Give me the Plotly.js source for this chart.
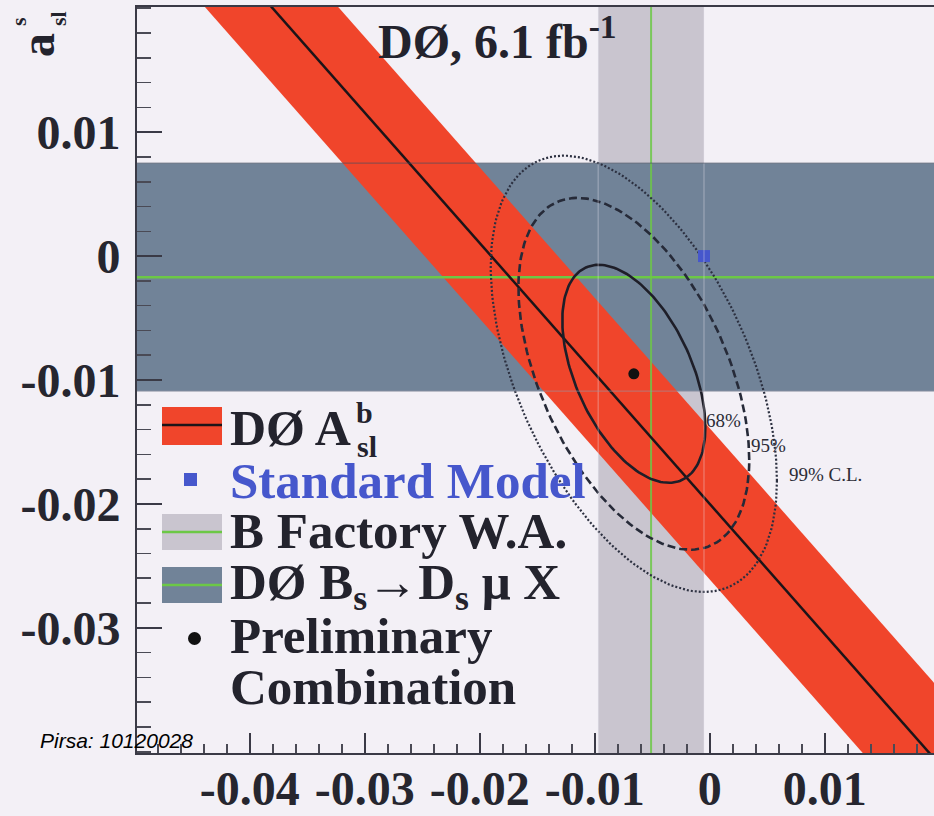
<!DOCTYPE html>
<html>
<head>
<meta charset="utf-8">
<script src="https://cdn.plot.ly/plotly-3.0.1.min.js"></script>
<style>
  html, body { margin: 0; padding: 0; background: #f3f0f6; }
  #chart { width: 934px; height: 816px; }
</style>
</head>
<body>
<div id="chart"></div>
<script>
// ---- tick labels ----
const xTickVals = [-0.04, -0.03, -0.02, -0.01, 0, 0.01];
const xTickText = ['-0.04', '-0.03', '-0.02', '-0.01', '0', '0.01'];
const yTickVals = [0.01, 0, -0.01, -0.02, -0.03];
const yTickText = ['0.01', '0', '-0.01', '-0.02', '-0.03'];

// ---- DØ A_sl^b band: central line (two points) and half-width in a_sl^s ----
const aslbLineX = [-0.0381, 0.0191];
const aslbLineY = [0.0201, -0.0401];
const aslbHalfWidth = 0.0061;

// ---- B factory world average of a_sl^d ----
const bFactoryCenter = -0.0051;
const bFactoryError = 0.0046;

// ---- DØ Bs -> Ds mu X measurement of a_sl^s ----
const dsMuCenter = -0.0017;
const dsMuError = 0.0092;

// ---- Standard Model expectation ----
const smX = [-0.0005];
const smY = [0.0000];

// ---- preliminary combination: central value and covariance ----
const combX = [-0.0066];
const combY = [-0.0095];
const combSigmaX = 0.0041;
const combSigmaY = 0.0058;
const combRho = -0.49;
const clLevels = ['68%', '95%', '99% C.L.'];
const clDeltaChi2 = [2.30, 5.99, 9.21];

// ---- colours ----
const BG = '#f3f0f6';
const RED = '#f0452b';
const SLATE = '#718398';
const GREY = '#c9c5cf';
const GREEN = '#6cc846';
const INK = '#23232d';
const SMBLUE = '#4657cc';

const SERIF = 'Liberation Serif, Times New Roman, serif';

// plot-area geometry (pixels) used to place the hand-made legend
const L = 137, T = 7, W = 797, H = 746;
const px = x => (x - L) / W;
const py = y => (T + H - y) / H;

const XR = [-0.0498, 0.0195];
const YR = [-0.0401, 0.0201];

// A_sl^b band polygon, extended past the plot edges along its central line
const slope = (aslbLineY[1] - aslbLineY[0]) / (aslbLineX[1] - aslbLineX[0]);
const lineAt = x => aslbLineY[0] + slope * (x - aslbLineX[0]);
const xa = -0.07, xb = 0.04;
const bandX = [xa, xb, xb, xa, xa];
const bandY = [lineAt(xa) + aslbHalfWidth, lineAt(xb) + aslbHalfWidth,
               lineAt(xb) - aslbHalfWidth, lineAt(xa) - aslbHalfWidth,
               lineAt(xa) + aslbHalfWidth];

// confidence contours of the combination from its covariance
function contour(dchi2) {
  const k = Math.sqrt(dchi2), xs = [], ys = [];
  const s = Math.sqrt(1 - combRho * combRho);
  for (let i = 0; i <= 180; i++) {
    const t = 2 * Math.PI * i / 180;
    xs.push(combX[0] + combSigmaX * k * Math.cos(t));
    ys.push(combY[0] + combSigmaY * k * (combRho * Math.cos(t) + s * Math.sin(t)));
  }
  return { xs, ys };
}

const traces = [];
traces.push({ x: bandX, y: bandY, mode: 'lines', fill: 'toself', fillcolor: RED,
  line: { width: 0, color: RED }, hoverinfo: 'skip' });
traces.push({ x: [-1, 1], y: [dsMuCenter, dsMuCenter], mode: 'lines',
  line: { color: GREEN, width: 2.5 }, hoverinfo: 'skip' });
traces.push({ x: [bFactoryCenter, bFactoryCenter], y: [-1, 1], mode: 'lines',
  line: { color: GREEN, width: 2 }, opacity: 0.85, hoverinfo: 'skip' });
traces.push({ x: [xa, xb], y: [lineAt(xa), lineAt(xb)], mode: 'lines',
  line: { color: '#1c1418', width: 2.5 }, hoverinfo: 'skip' });

const clStyles = [
  { dash: 'solid', width: 2.6, color: '#1e1e28' },
  { dash: '8px,4px', width: 2.6, color: '#262a38' },
  { dash: '2px,2px', width: 2.2, color: '#2c3040' }
];
clDeltaChi2.forEach((d, i) => {
  const c = contour(d);
  traces.push({ x: c.xs, y: c.ys, mode: 'lines', line: clStyles[i], hoverinfo: 'skip' });
});

traces.push({ x: smX, y: smY, mode: 'markers',
  marker: { symbol: 'square', size: 12, color: SMBLUE }, hoverinfo: 'skip' });
traces.push({ x: combX, y: combY, mode: 'markers',
  marker: { symbol: 'circle', size: 11, color: '#111' }, hoverinfo: 'skip' });

const shapes = [
  // B factory band
  { type: 'rect', layer: 'below', xref: 'x', yref: 'paper',
    x0: bFactoryCenter - bFactoryError, x1: bFactoryCenter + bFactoryError, y0: 0, y1: 1,
    fillcolor: GREY, line: { width: 0 } },
  // Bs -> Ds mu X band
  { type: 'rect', layer: 'below', xref: 'paper', yref: 'y',
    x0: 0, x1: 1, y0: dsMuCenter - dsMuError, y1: dsMuCenter + dsMuError,
    fillcolor: SLATE, line: { width: 0 } },
  // faint band edges
  { type: 'line', layer: 'above', xref: 'x', yref: 'paper',
    x0: bFactoryCenter - bFactoryError, x1: bFactoryCenter - bFactoryError, y0: 0, y1: 1,
    line: { color: 'rgba(236,232,242,0.35)', width: 1.2 } },
  { type: 'line', layer: 'above', xref: 'x', yref: 'paper',
    x0: bFactoryCenter + bFactoryError, x1: bFactoryCenter + bFactoryError, y0: 0, y1: 1,
    line: { color: 'rgba(236,232,242,0.35)', width: 1.2 } },
  { type: 'line', layer: 'above', xref: 'paper', yref: 'y',
    x0: 0, x1: 1, y0: dsMuCenter + dsMuError, y1: dsMuCenter + dsMuError,
    line: { color: 'rgba(70,78,95,0.55)', width: 1.2 } },
  { type: 'line', layer: 'above', xref: 'paper', yref: 'y',
    x0: 0, x1: 1, y0: dsMuCenter - dsMuError, y1: dsMuCenter - dsMuError,
    line: { color: 'rgba(150,150,165,0.5)', width: 1.2 } },

  // legend swatches
  { type: 'rect', layer: 'above', xref: 'paper', yref: 'paper',
    x0: px(162), x1: px(222), y0: py(445), y1: py(407), fillcolor: RED, line: { width: 0 } },
  { type: 'line', layer: 'above', xref: 'paper', yref: 'paper',
    x0: px(162), x1: px(222), y0: py(425), y1: py(425), line: { color: '#1c1418', width: 2.5 } },
  { type: 'rect', layer: 'above', xref: 'paper', yref: 'paper',
    x0: px(184), x1: px(197), y0: py(486), y1: py(473), fillcolor: SMBLUE, line: { width: 0 } },
  { type: 'rect', layer: 'above', xref: 'paper', yref: 'paper',
    x0: px(162), x1: px(222), y0: py(550), y1: py(514), fillcolor: GREY, line: { width: 0 } },
  { type: 'line', layer: 'above', xref: 'paper', yref: 'paper',
    x0: px(162), x1: px(222), y0: py(532), y1: py(532), line: { color: GREEN, width: 2.5 } },
  { type: 'rect', layer: 'above', xref: 'paper', yref: 'paper',
    x0: px(162), x1: px(222), y0: py(603), y1: py(567), fillcolor: SLATE, line: { width: 0 } },
  { type: 'line', layer: 'above', xref: 'paper', yref: 'paper',
    x0: px(162), x1: px(222), y0: py(585), y1: py(585), line: { color: GREEN, width: 2.5 } },
  { type: 'circle', layer: 'above', xref: 'paper', yref: 'paper',
    x0: px(188), x1: px(201), y0: py(645), y1: py(632), fillcolor: '#111', line: { width: 0 } }
];

const bold = (size, color) => ({ family: SERIF, size: size, color: color || INK, weight: 'bold' });
const ann = (text, x, y, font, extra) => Object.assign({
  text: text, xref: 'paper', yref: 'paper', x: px(x), y: py(y),
  xanchor: 'left', yanchor: 'middle', showarrow: false, font: font
}, extra || {});

const annotations = [
  // header
  ann('DØ, 6.1 fb<sup>-1</sup>', 376, 38, bold(48)),
  // vertical axis title
  ann('a', 37, 45, bold(48), { xanchor: 'center', textangle: -90 }),
  ann('s', 18, 22, bold(22), { xanchor: 'center', textangle: -90 }),
  ann('sl', 58, 19, bold(22), { xanchor: 'center', textangle: -90 }),
  // legend text
  ann('DØ A', 228, 428, bold(50)),
  ann('b', 354, 413, bold(30)),
  ann('sl', 355, 447, bold(30)),
  ann('Standard Model', 228, 481, bold(51, SMBLUE)),
  ann('B Factory W.A.', 228, 531, bold(51)),
  ann('DØ B<sub>s</sub>→D<sub>s</sub> μ X', 228, 586, bold(51)),
  ann('Preliminary', 228, 636, bold(51)),
  ann('Combination', 228, 687, bold(51)),
  // contour labels
  { text: clLevels[0], xref: 'x', yref: 'y', x: 0.0012, y: -0.0133, showarrow: false,
    font: { family: SERIF, size: 19, color: '#2c2c36' } },
  { text: clLevels[1], xref: 'x', yref: 'y', x: 0.0051, y: -0.0153, showarrow: false,
    font: { family: SERIF, size: 19, color: '#2c2c36' } },
  { text: clLevels[2], xref: 'x', yref: 'y', x: 0.0101, y: -0.0176, showarrow: false,
    font: { family: SERIF, size: 19, color: '#2c2c36' } },
  // source tag
  ann('Pirsa: 10120028', 38, 740,
      { family: 'Liberation Sans, Arial, sans-serif', size: 21, color: '#000', style: 'italic' })
];

const axisCommon = {
  showgrid: false, zeroline: false, showline: true, linecolor: '#3a3a46', linewidth: 2,
  ticks: 'inside', tickwidth: 2, tickcolor: '#3a3a46', tickmode: 'array',
  tickfont: bold(48, '#26262f'), automargin: false, fixedrange: true
};

const layout = {
  width: 934, height: 816,
  margin: { l: L, r: 934 - L - W, t: T, b: 816 - T - H },
  paper_bgcolor: BG, plot_bgcolor: BG,
  showlegend: false,
  xaxis: Object.assign({}, axisCommon, {
    range: XR, tickvals: xTickVals, ticktext: xTickText, ticklen: 20, mirror: true,
    ticklabelstandoff: -8,
    minor: { tickmode: 'linear', tick0: 0, dtick: 0.002, ticks: 'inside', ticklen: 9,
             tickwidth: 1.6, tickcolor: '#4a4a55' }
  }),
  yaxis: Object.assign({}, axisCommon, {
    range: YR, tickvals: yTickVals, ticktext: yTickText, ticklen: 25, ticklabelstandoff: 5,
    minor: { tickmode: 'linear', tick0: 0, dtick: 0.002, ticks: 'inside', ticklen: 14,
             tickwidth: 1.6, tickcolor: '#4a4a55' }
  }),
  shapes: shapes,
  annotations: annotations
};

Plotly.newPlot('chart', traces, layout, { staticPlot: true, displayModeBar: false });
</script>
</body>
</html>
